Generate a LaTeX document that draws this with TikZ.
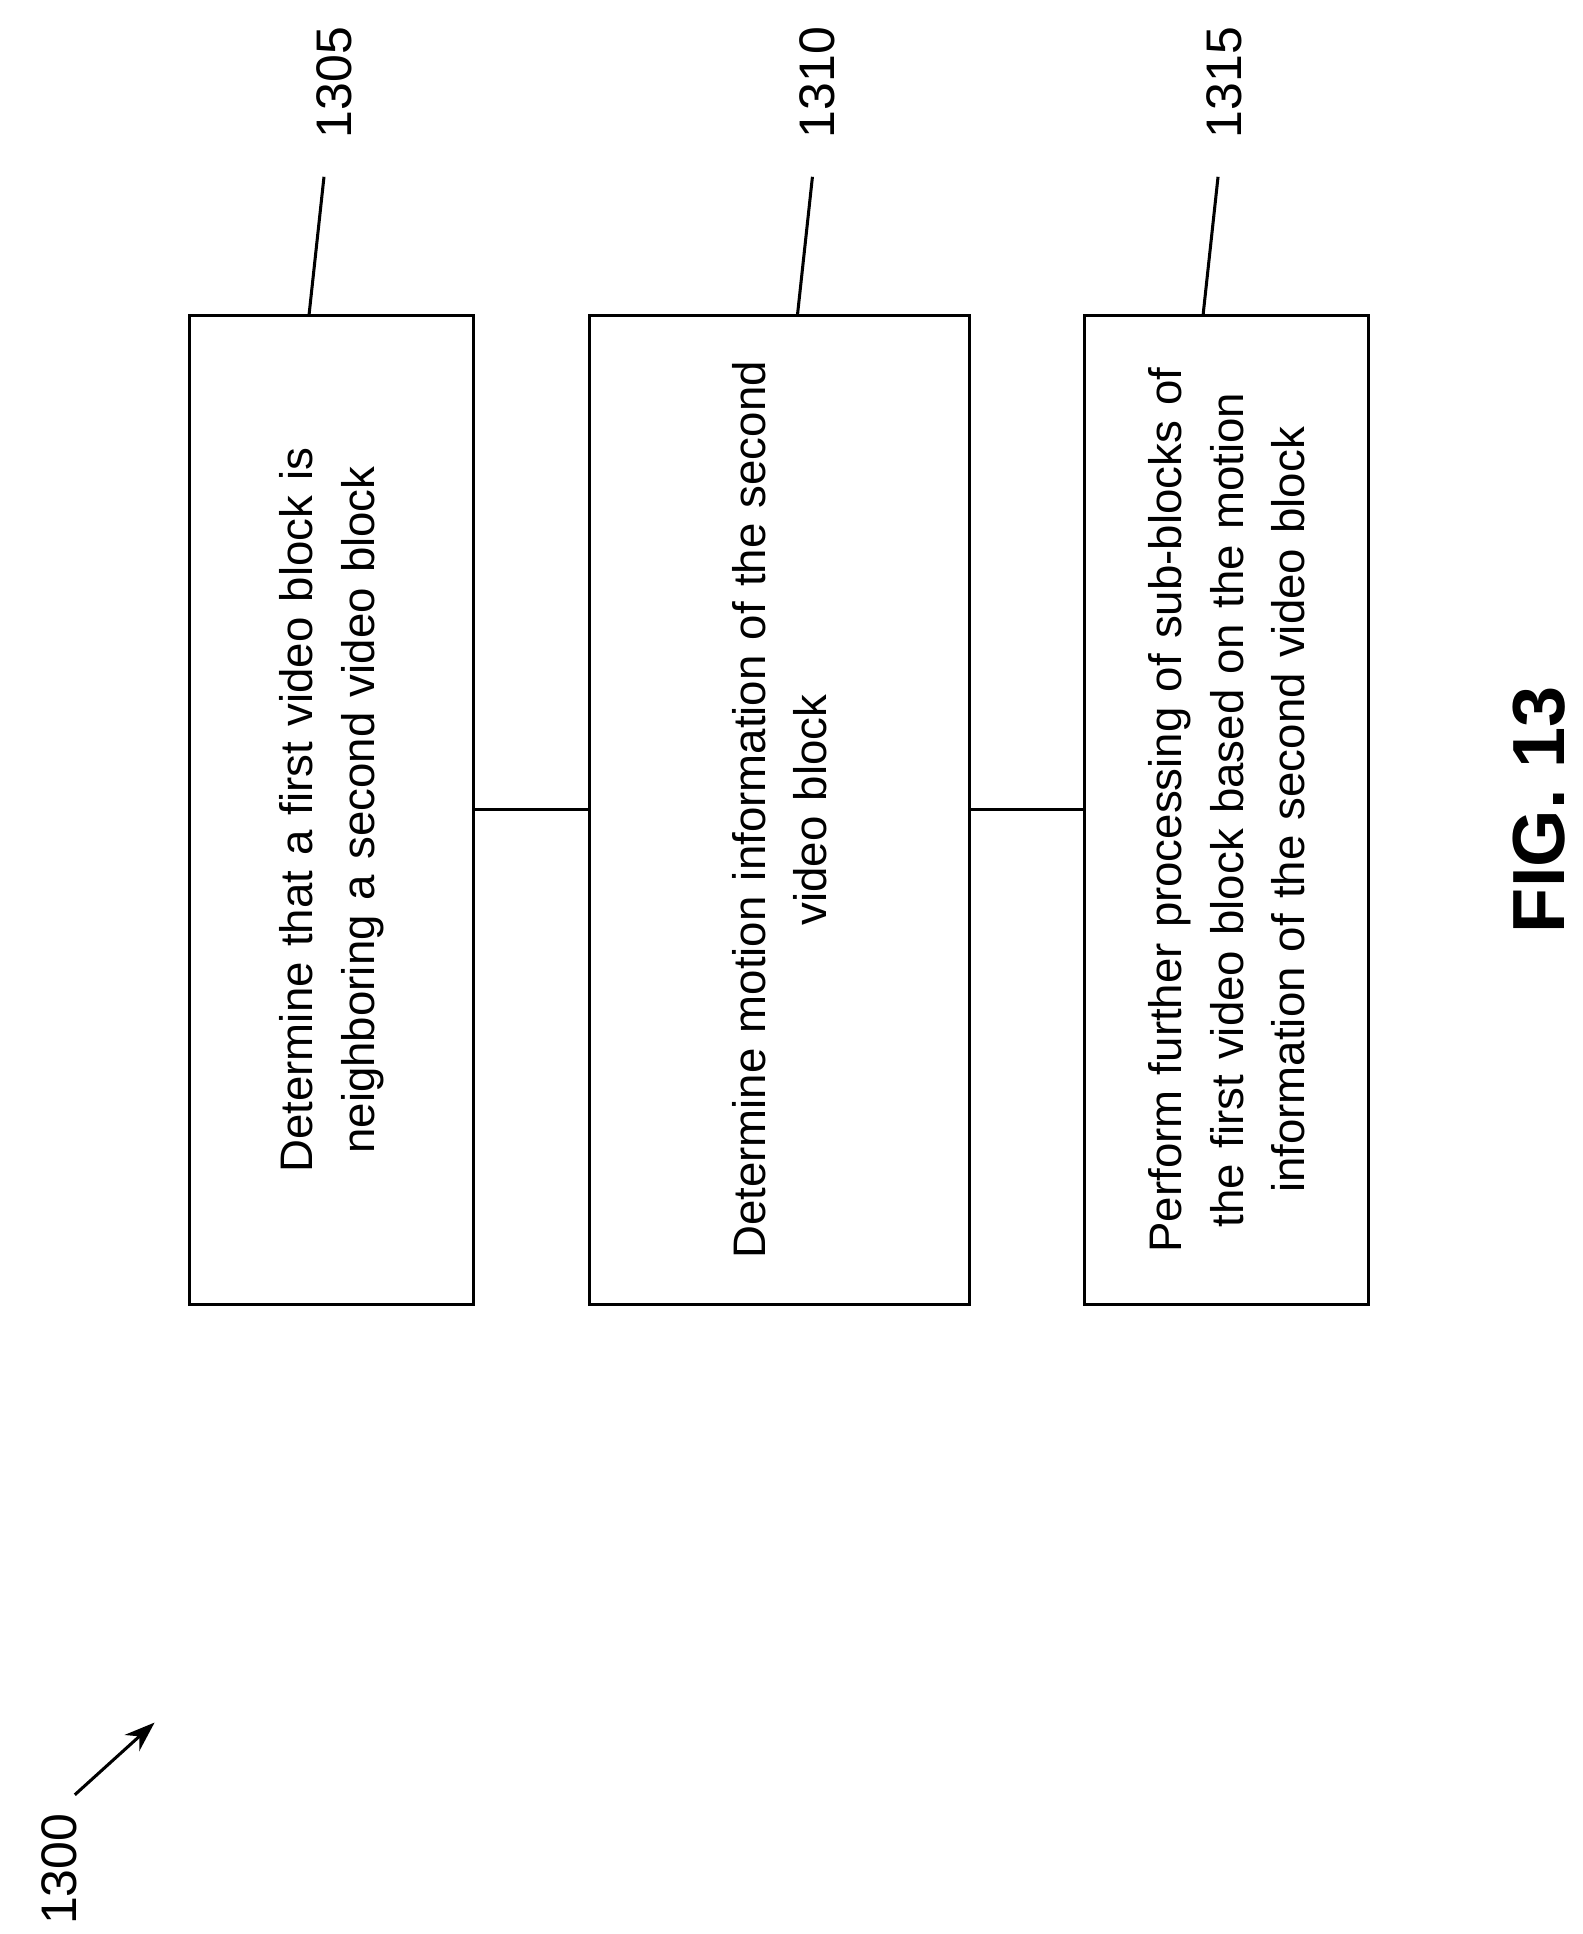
\documentclass[tikz,border=0pt]{standalone}
\usepackage{fontspec}
\setmainfont{Liberation Sans}
\usetikzlibrary{arrows.meta}
\begin{document}
\begin{tikzpicture}[x=0.02cm,y=-0.02cm,
  box/.style={draw,line width=1.4pt,rotate=90,minimum width=16cm,align=center,text width=15.2cm,inner sep=0pt,font=\fontsize{21}{28.5}\selectfont},
  ref/.style={rotate=90,anchor=west,font=\fontsize{23}{28}\selectfont,inner sep=0pt},
  ln/.style={line width=1.4pt}]
\useasboundingbox (0,0) rectangle (1280,1564);
\node[box,minimum height=4.6cm] (b1) at (268,655) {Determine that a first video block is\\neighboring a second video block};
\node[box,minimum height=6.14cm] (b2) at (630.5,655) {Determine motion information of the second\\video block};
\node[box,minimum height=4.6cm] (b3) at (992,655) {Perform further processing of sub-blocks of\\the first video block based on the motion\\information of the second video block};
\draw[ln] (b1.south) -- (b2.north);
\draw[ln] (b2.south) -- (b3.north);
\node[ref] (l1) at (270,112) {1305};
\node[ref] (l2) at (661,112) {1310};
\node[ref] (l3) at (990,112) {1315};
\draw[ln] ([xshift=-0.36cm]b1.east) -- ([xshift=-0.16cm,yshift=-0.62cm]l1.west);
\draw[ln] ([xshift=0.29cm]b2.east) -- ([xshift=-0.08cm,yshift=-0.62cm]l2.west);
\draw[ln] ([xshift=-0.38cm]b3.east) -- ([xshift=-0.1cm,yshift=-0.62cm]l3.west);
\node[rotate=90,font=\fontsize{34}{40}\selectfont\bfseries,inner sep=0pt] (fig) at (1245,655) {FIG. 13};
\node[ref] (l0) at (48,1557) {1300};
\coordinate (tip) at (125,1393);
\draw[ln,-{Stealth[length=14pt,width=10pt]}] ([xshift=0.25cm,yshift=0.3cm]l0.east) -- (tip);
\end{tikzpicture}
\end{document}
